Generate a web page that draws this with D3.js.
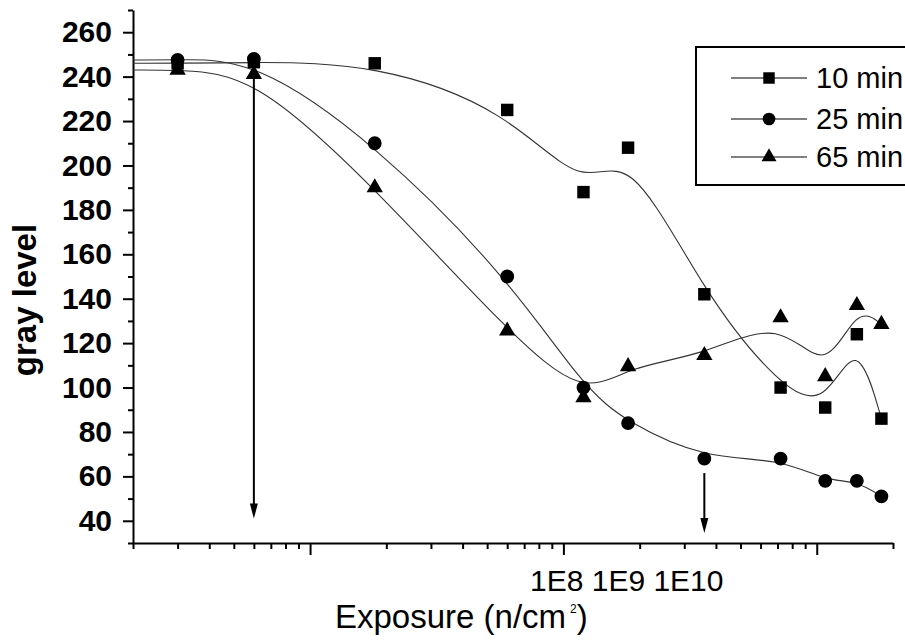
<!DOCTYPE html>
<html>
<head>
<meta charset="utf-8">
<script src="https://cdn.jsdelivr.net/npm/d3@7"></script>
<style>
  body { margin: 0; background: #fff; }
  svg { font-family: "Liberation Sans", Arial, sans-serif; }
</style>
</head>
<body>
<svg width="905" height="640"></svg>
<script>
// exposure values (n/cm^2) and gray levels
const exposure = [3e7, 6e7, 1.8e8, 6e8, 1.2e9, 1.8e9, 3.6e9, 7.2e9, 1.08e10, 1.44e10, 1.8e10];
const gray10 = [246, 246.5, 246, 225, 188, 208, 142, 100, 91, 124, 86];
const gray25 = [247.5, 248, 210, 150, 100, 84, 68, 68, 58, 58, 51];
const gray65 = [243, 241, 190, 125.5, 95.5, 109.5, 114.5, 131.5, 105, 137, 128.5];

const seriesNames = ["10 min", "25 min", "65 min"];
const xDomain = [2e7, 2e10];
const yDomain = [30, 270];
const yMajor = [40, 60, 80, 100, 120, 140, 160, 180, 200, 220, 240, 260];
const xMajor = [1e8, 1e9, 1e10];

// arrows: [exposure, from, to]
const arrows = [
  [6e7, 241, 41],
  [3.6e9, 61.5, 34.5]
];

const svg = d3.select("svg");
const plotL = 133, plotR = 893, plotT = 10, plotB = 543;

const x = d3.scaleLog().domain(xDomain).range([plotL, plotR]);
const y = d3.scaleLinear().domain(yDomain).range([plotB, plotT]);

// minor ticks
let xMinor = [];
for (let k = 7; k <= 10; k++) {
  for (let m = 2; m <= 9; m++) {
    const v = m * Math.pow(10, k);
    if (v >= xDomain[0] && v <= xDomain[1]) xMinor.push(v);
  }
}
const yMinor = d3.range(30, 271, 10).filter(v => !yMajor.includes(v));

// y axis
const yAxis = svg.append("g").attr("transform", `translate(${plotL},0)`)
  .call(d3.axisLeft(y).tickValues(yMajor).tickSize(10).tickPadding(11).tickSizeOuter(0));
svg.append("g").attr("transform", `translate(${plotL},0)`)
  .call(d3.axisLeft(y).tickValues(yMinor).tickSize(5).tickFormat("").tickSizeOuter(0))
  .select(".domain").remove();
yAxis.selectAll("text")
  .style("font-size", "30px").style("font-weight", "bold")
  .style("font-family", "'Liberation Sans', Arial, sans-serif").attr("fill", "#000");

// x axis
const xAxis = svg.append("g").attr("transform", `translate(0,${plotB})`)
  .call(d3.axisBottom(x).tickValues(xMajor).tickSize(12).tickFormat("").tickSizeOuter(0));
svg.append("g").attr("transform", `translate(0,${plotB})`)
  .call(d3.axisBottom(x).tickValues(xMinor).tickSize(6).tickFormat("").tickSizeOuter(0))
  .select(".domain").remove();

svg.selectAll(".domain").attr("stroke", "#000").attr("stroke-width", 2);
svg.selectAll(".tick line").attr("stroke", "#000").attr("stroke-width", 2);

// major labels, drawn in one cluster like the original
svg.append("text")
  .attr("x", 530).attr("y", 591)
  .style("font-size", "30px")
  .text(xMajor.map(v => "1E" + Math.round(Math.log10(v))).join(" "));

// axis titles
const xt = svg.append("text").attr("x", 335).attr("y", 628).style("font-size", "33px");
xt.append("tspan").text("Exposure (n/cm");
xt.append("tspan").attr("dx", 4).attr("dy", -15).style("font-size", "12px").text("2");
xt.append("tspan").attr("dx", 0).attr("dy", 15).text(")");

svg.append("text")
  .attr("transform", "translate(36,300) rotate(-90)")
  .attr("text-anchor", "middle")
  .style("font-size", "33px").style("font-weight", "bold")
  .text("gray level");

// curves and markers
const series = [gray10, gray25, gray65];
const shapes = [d3.symbolSquare, d3.symbolCircle, d3.symbolTriangle];
const sizes = [155, 150, 115];

const line = d3.line().x(d => x(d[0])).y(d => y(d[1])).curve(d3.curveBasis);

series.forEach((vals, i) => {
  const pts = exposure.map((e, j) => [e, vals[j]]);
  const path = [[xDomain[0], vals[0]]].concat(pts);
  svg.append("path").attr("d", line(path))
    .attr("fill", "none").attr("stroke", "#333").attr("stroke-width", 1.1);
});

series.forEach((vals, i) => {
  svg.append("g").selectAll("path")
    .data(exposure.map((e, j) => [e, vals[j]]))
    .join("path")
    .attr("transform", d => `translate(${x(d[0])},${y(d[1])})`)
    .attr("d", d3.symbol().type(shapes[i]).size(sizes[i]))
    .attr("fill", "#000");
});

// arrows
arrows.forEach(a => {
  const ax = x(a[0]), y1 = y(a[1]), y2 = y(a[2]);
  svg.append("line").attr("x1", ax).attr("x2", ax).attr("y1", y1).attr("y2", y2 - 12)
    .attr("stroke", "#000").attr("stroke-width", 2);
  svg.append("path")
    .attr("d", `M${ax - 4},${y2 - 15}L${ax + 4},${y2 - 15}L${ax},${y2}Z`)
    .attr("fill", "#000");
});

// legend
const lg = svg.append("g");
lg.append("rect").attr("x", 696).attr("y", 47).attr("width", 230).attr("height", 138)
  .attr("fill", "#fff").attr("stroke", "#000").attr("stroke-width", 2);
const rowsY = [78, 119, 157];
seriesNames.forEach((name, i) => {
  lg.append("line").attr("x1", 731).attr("x2", 807).attr("y1", rowsY[i]).attr("y2", rowsY[i])
    .attr("stroke", "#000").attr("stroke-width", 1);
  lg.append("path").attr("transform", `translate(769,${rowsY[i]})`)
    .attr("d", d3.symbol().type(shapes[i]).size(sizes[i] * 0.85)).attr("fill", "#000");
  lg.append("text").attr("x", 816).attr("y", rowsY[i] + 10)
    .style("font-size", "29px").text(name);
});
</script>
</body>
</html>
